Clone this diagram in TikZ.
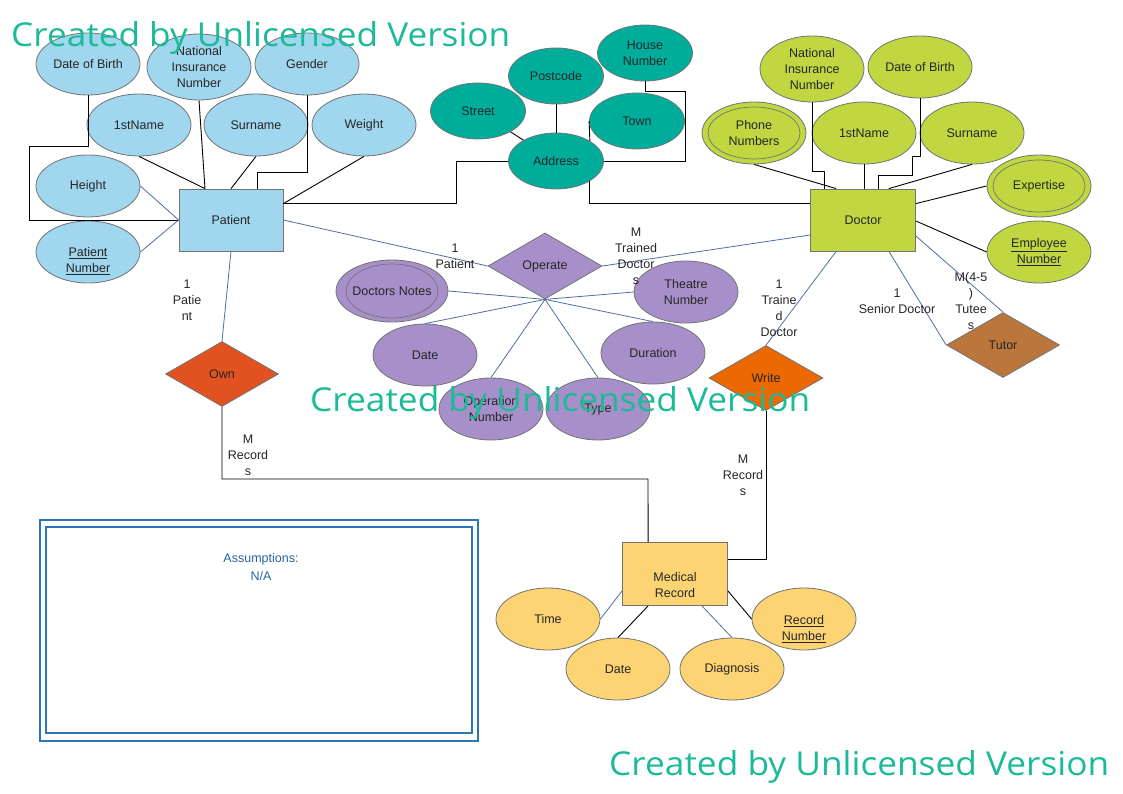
\documentclass[tikz,border=0pt]{standalone}
\usepackage{fontspec}
\setmainfont{Liberation Sans}
\newfontfamily\wmfont{Open Sans}
\usepackage{graphicx}
\usetikzlibrary{shapes.geometric,calc}
\definecolor{pblue}{RGB}{160,214,238}
\definecolor{tealc}{RGB}{0,173,155}
\definecolor{dgreen}{RGB}{192,215,66}
\definecolor{opurp}{RGB}{167,144,201}
\definecolor{myel}{RGB}{253,212,115}
\definecolor{ownc}{RGB}{226,82,32}
\definecolor{writec}{RGB}{236,104,0}
\definecolor{tutorc}{RGB}{187,118,60}
\definecolor{bordc}{RGB}{115,115,115}
\definecolor{bluel}{RGB}{79,110,160}
\definecolor{txtc}{RGB}{38,38,38}
\definecolor{aboxc}{RGB}{46,117,182}
\definecolor{atext}{RGB}{37,100,160}
\definecolor{wmc}{RGB}{27,186,152}
\begin{document}
\begin{tikzpicture}[x=1pt,y=-1pt,
  every node/.style={font=\fontsize{12.5}{16}\selectfont, text=txtc, align=center},
  attr/.style={ellipse, draw=bordc, line width=0.8pt, minimum width=104pt, minimum height=62pt, inner sep=0pt},
  tattr/.style={ellipse, draw=bordc, line width=0.8pt, fill=tealc, minimum width=95pt, minimum height=56pt, inner sep=0pt},
  ent/.style={rectangle, draw=bordc, line width=0.8pt, minimum width=104pt, minimum height=62pt, inner sep=0pt},
  rel/.style={diamond, draw=bordc, line width=0.8pt, aspect=1.75, minimum width=114pt, minimum height=65pt, inner sep=0pt},
  inner/.style={draw=bordc, line width=0.7pt},
  bk/.style={draw=black, line width=0.9pt},
  bl/.style={draw=bluel, line width=0.8pt},
  lbl/.style={inner sep=0pt},
  wm/.style={anchor=base west, inner sep=0pt, text=wmc}
]
\useasboundingbox (0,0) rectangle (1123,794);

% ---------------- Patient ----------------
\node[attr,fill=pblue] (pdob) at (88,64) {Date of Birth};
\node[attr,fill=pblue,minimum height=66pt] (pnin) at (199,67) {National\\Insurance\\Number};
\node[attr,fill=pblue] (pgen) at (307,64) {Gender};
\node[attr,fill=pblue] (pfn) at (139,125) {1stName};
\node[attr,fill=pblue] (psn) at (256,125) {Surname};
\node[attr,fill=pblue] (pwt) at (364,125) {Weight};
\node[attr,fill=pblue] (pht) at (88,186) {Height};
\node[attr,fill=pblue] (ppn) at (88,252) {};
\node[lbl] (ppnt) at (88,261) {\underline{Patient}\\\underline{Number}};
\node[ent,fill=pblue] (patient) at (231,220) {Patient};

\draw[bk] (pdob.south) -- ++(0,51) -| (29,220) -- (patient.west);
\draw[bk] (pnin.south) -- ($(patient.north)+(-26,0)$);
\draw[bk] (pfn.south) -- ($(patient.north)+(-26,0)$);
\draw[bk] (psn.south) -- (patient.north);
\draw[bk] (pgen.south) |- (257,172) -- ($(patient.north)+(26,0)$);
\draw[bk] (pwt.south) -- ($(patient.north east)+(0,15)$);
\draw[bl] (pht.east) -- (patient.west);
\draw[bl] (ppn.east) -- (patient.west);

% ---------------- Address ----------------
\node[tattr] (hno) at (645,53) {House\\Number};
\node[tattr] (st) at (478,111) {Street};
\node[tattr] (pc) at (556,76) {Postcode};
\node[tattr] (town) at (637,121) {Town};
\node[tattr] (addr) at (556,161) {Address};

\draw[bk] (st) -- (addr);
\draw[bk] (pc.south) -- (addr.north);
\draw[bk] (town.west) -- (addr.north east);
\draw[bk] (hno.south) |- (685,91) |- (addr.east);
\draw[bk] ($(patient.north east)+(0,15)$) -| (456,161) -- (addr.west);

% ---------------- Doctor ----------------
\node[ent,fill=dgreen,minimum width=105pt] (doctor) at (863,220) {Doctor};
\node[attr,fill=dgreen,minimum height=66pt] (dnin) at (812,69) {National\\Insurance\\Number};
\node[attr,fill=dgreen] (ddob) at (920,67) {Date of Birth};
\node[attr,fill=dgreen] (dph) at (754,133) {Phone\\Numbers};
\draw[inner] (dph.center) ellipse [x radius=46, y radius=26];
\node[attr,fill=dgreen] (dfn) at (864,133) {1stName};
\node[attr,fill=dgreen] (dsn) at (972,133) {Surname};
\node[attr,fill=dgreen] (dexp) at (1039,186) {Expertise};
\draw[inner] (dexp.center) ellipse [x radius=46, y radius=26];
\node[attr,fill=dgreen] (demp) at (1039,252) {\underline{Employee}\\\underline{Number}};

\draw[bk] (dph.south) -- ($(doctor.north west)+(26,0)$);
\draw[bk] (dnin.south) |- (824,171) -- ($(doctor.north)+(-39,0)$);
\draw[bk] (dfn.south) -- (dfn.south |- doctor.north);
\draw[bk] (ddob.south) |- (912,156) |- (878,175) -- ($(doctor.north)+(15,0)$);
\draw[bk] (dsn.south) -- ($(doctor.north east)+(-27,0)$);
\draw[bk] (dexp.west) -- ($(doctor.north east)+(0,15)$);
\draw[bk] (demp.west) -- ($(doctor.east)+(0,1)$);
\draw[bk] (addr.south east) |- ($(doctor.north west)+(0,15)$);

% ---------------- Relationships ----------------
\node[rel,fill=opurp,minimum height=66pt] (operate) at (545,266) {Operate};
\node[rel,fill=ownc,minimum width=113pt] (own) at (222,374) {Own};
\node[rel,fill=writec] (write) at (766,378) {Write};
\node[rel,fill=tutorc,minimum width=113pt] (tutor) at (1003,345) {Tutor};

% ---------------- Operate attributes ----------------
\node[attr,fill=opurp] (odn) at (392,291) {Doctors Notes};
\draw[inner] (odn.center) ellipse [x radius=46, y radius=27];
\node[attr,fill=opurp] (otn) at (686,292) {Theatre\\Number};
\node[attr,fill=opurp] (odate) at (425,355) {Date};
\node[attr,fill=opurp] (odur) at (653,353) {Duration};
\node[attr,fill=opurp] (oon) at (491,409) {Operation\\Number};
\node[attr,fill=opurp] (otype) at (598,409) {Type};

\draw[bl] (operate.south) -- (odn.east);
\draw[bl] (operate.south) -- (otn.west);
\draw[bl] (operate.south) -- (odate.north);
\draw[bl] (operate.south) -- (odur.north);
\draw[bl] (operate.south) -- (oon.north);
\draw[bl] (operate.south) -- (otype.north);
\draw[bl] (patient.east) -- (operate.west);
\draw[bl] (operate.east) -- ($(doctor.west)+(0,15)$);
\draw[bl] ($(doctor.south west)+(26,0)$) -- (write.north);
\draw[bl] ($(doctor.south east)+(-27,0)$) -- (tutor.west);
\draw[bl] ($(doctor.east)+(0,16)$) -- (tutor.north);
\draw[bl] (patient.south) -- (own.north);

% ---------------- Medical Record ----------------
\node[ent,fill=myel,minimum width=105pt,minimum height=63pt] (mr) at (675,574) {};
\node[lbl] (mrt) at (675,585) {Medical\\Record};
\node[attr,fill=myel] (mtime) at (548,619) {Time};
\node[attr,fill=myel] (mdate) at (618,669) {Date};
\node[attr,fill=myel] (mdiag) at (732,669) {Diagnosis};
\node[attr,fill=myel] (mrn) at (804,619) {};
\node[lbl] (mrnt) at (804,629) {\underline{Record}\\\underline{Number}};

\draw[bl] (mtime.east) -- ($(mr.south west)+(0,-15)$);
\draw[bk] (mdate.north) -- ($(mr.south west)+(26,0)$);
\draw[bl] (mdiag.north) -- ($(mr.south east)+(-26,0)$);
\draw[bk] (mrn.west) -- ($(mr.south east)+(0,-15)$);
\draw[bk] (own.south) |- (648,479) -- ($(mr.north west)+(26,0)$);
\draw[bk] (write.south) |- ($(mr.east)+(0,-15)$);

% ---------------- Cardinality labels ----------------
\node[lbl] (l1) at (455,256) {1\\Patient};
\node[lbl] (l2) at (636,256) {M\\Trained\\Doctor\\s};
\node[lbl] (l3) at (187,300) {1\\Patie\\nt};
\node[lbl] (l4) at (248,455) {M\\Record\\s};
\node[lbl] (l5) at (779,308) {1\\Traine\\d\\Doctor};
\node[lbl] (l6) at (743,475) {M\\Record\\s};
\node[lbl] (l7) at (897,301) {1\\Senior Doctor};
\node[lbl] (l8) at (971,301) {M(4-5\\)\\Tutee\\s};

% ---------------- Assumptions ----------------
\draw[draw=aboxc, line width=1.8pt] (40,520) rectangle (478,741);
\draw[draw=aboxc, line width=1.8pt] (46,527) rectangle (472,733);
\node[lbl,text=atext,font=\fontsize{12.5}{18}\selectfont] (assum) at (261,567) {Assumptions:\\N/A};

% ---------------- Watermarks ----------------
\node[wm] (wm1) at (11,47) {\resizebox{499pt}{25pt}{\wmfont Created by Unlicensed Version}};
\node[wm] (wm2) at (310,411) {\resizebox{500pt}{25pt}{\wmfont Created by Unlicensed Version}};
\node[wm] (wm3) at (609,775) {\resizebox{500pt}{25pt}{\wmfont Created by Unlicensed Version}};
\end{tikzpicture}
\end{document}
